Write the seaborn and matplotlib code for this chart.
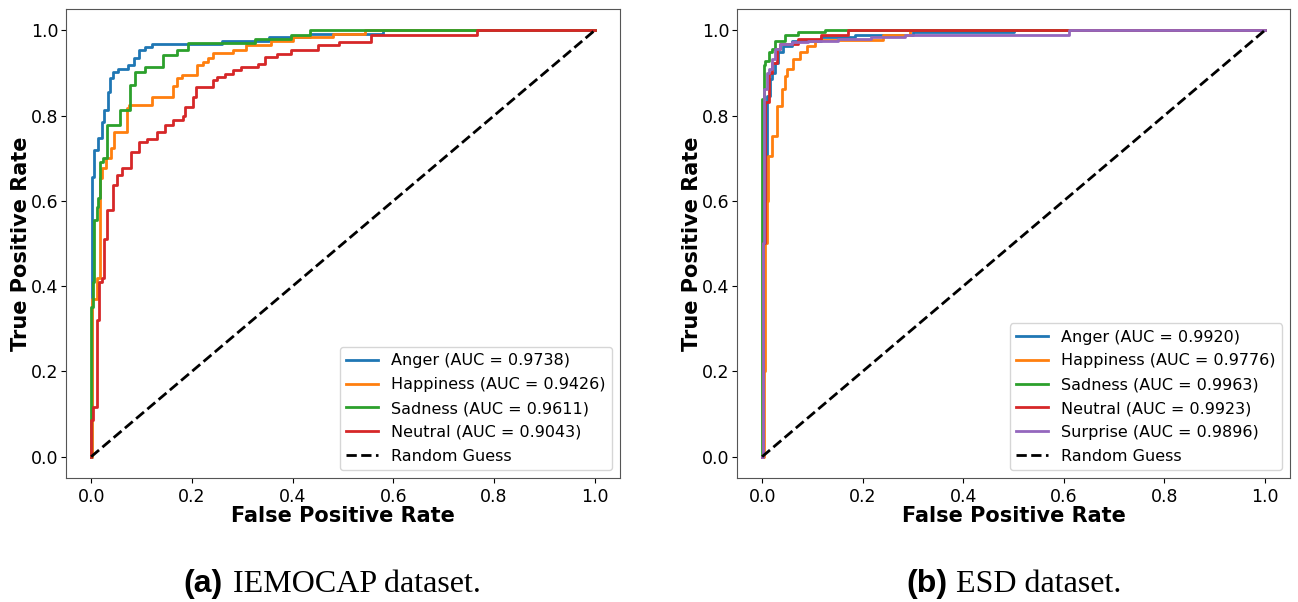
import matplotlib
matplotlib.use('Agg')
import matplotlib.pyplot as plt
import seaborn as sns

# ROC curve corner points (fpr, tpr), steps-post
# IEMOCAP
iemo_labels = ['Anger', 'Happiness', 'Sadness', 'Neutral']
iemo_auc = ['0.9738', '0.9426', '0.9611', '0.9043']
iemo_fpr = [
    [0, 0.0013, 0.006, 0.013, 0.021, 0.026, 0.033, 0.038, 0.044, 0.054, 0.074,
     0.086, 0.094, 0.107, 0.12, 0.259, 0.354, 0.434, 0.579, 1.0],
    [0, 0.002, 0.012, 0.018, 0.022, 0.029, 0.039, 0.045, 0.072, 0.076, 0.12,
     0.163, 0.17, 0.18, 0.21, 0.222, 0.232, 0.242, 0.282, 0.308, 0.358, 0.401,
     0.48, 0.543, 1.0],
    [0, 0, 0.003, 0.006, 0.011, 0.0145, 0.018, 0.024, 0.032, 0.057, 0.077,
     0.087, 0.107, 0.143, 0.17, 0.193, 0.325, 0.397, 0.434, 1.0],
    [0, 0, 0.003, 0.011, 0.015, 0.021, 0.026, 0.031, 0.044, 0.052, 0.061, 0.08,
     0.094, 0.11, 0.13, 0.146, 0.163, 0.183, 0.186, 0.203, 0.209, 0.242, 0.249,
     0.265, 0.282, 0.298, 0.331, 0.345, 0.368, 0.397, 0.45, 0.493, 0.556,
     0.767, 1.0],
]
iemo_tpr = [
    [0, 0.656, 0.72, 0.747, 0.785, 0.813, 0.855, 0.887, 0.902, 0.91, 0.918,
     0.934, 0.953, 0.961, 0.969, 0.975, 0.985, 0.992, 1.0, 1.0],
    [0, 0.37, 0.42, 0.653, 0.677, 0.70, 0.724, 0.762, 0.817, 0.825, 0.844,
     0.87, 0.888, 0.895, 0.918, 0.926, 0.934, 0.946, 0.953, 0.965, 0.975, 0.985,
     0.992, 1.0, 1.0],
    [0, 0.35, 0.41, 0.555, 0.585, 0.607, 0.69, 0.70, 0.777, 0.813, 0.871,
     0.902, 0.914, 0.941, 0.953, 0.971, 0.98, 0.988, 1.0, 1.0],
    [0, 0.087, 0.117, 0.32, 0.41, 0.42, 0.51, 0.578, 0.637, 0.66, 0.677, 0.714,
     0.738, 0.745, 0.762, 0.777, 0.789, 0.80, 0.82, 0.844, 0.867, 0.883, 0.89,
     0.898, 0.906, 0.914, 0.922, 0.937, 0.945, 0.953, 0.965, 0.973, 0.988,
     1.0, 1.0],
]

# ESD
esd_labels = ['Anger', 'Happiness', 'Sadness', 'Neutral', 'Surprise']
esd_auc = ['0.9920', '0.9776', '0.9963', '0.9923', '0.9896']
esd_fpr = [
    [0, 0.002, 0.0093, 0.016, 0.019, 0.026, 0.032, 0.042, 0.059, 0.118, 0.184,
     0.30, 0.50, 1.0],
    [0, 0.004, 0.006, 0.009, 0.0126, 0.019, 0.029, 0.039, 0.046, 0.049, 0.062,
     0.075, 0.09, 0.105, 0.24, 0.294, 1.0],
    [0, 0, 0.003, 0.006, 0.013, 0.02, 0.026, 0.046, 0.072, 0.125, 1.0],
    [0, 0.002, 0.006, 0.013, 0.019, 0.029, 0.036, 0.072, 0.118, 0.171, 1.0],
    [0, 0.001, 0.003, 0.009, 0.013, 0.019, 0.026, 0.036, 0.059, 0.092, 0.151,
     0.217, 0.284, 0.61, 1.0],
]
esd_tpr = [
    [0, 0.6, 0.847, 0.886, 0.90, 0.924, 0.948, 0.964, 0.976, 0.984, 0.989,
     0.995, 1.0, 1.0],
    [0, 0.2, 0.5, 0.6, 0.706, 0.753, 0.823, 0.862, 0.894, 0.909, 0.933,
     0.948, 0.964, 0.977, 0.988, 1.0, 1.0],
    [0, 0.84, 0.918, 0.929, 0.948, 0.956, 0.976, 0.989, 0.995, 1.0, 1.0],
    [0, 0.5, 0.832, 0.90, 0.924, 0.956, 0.968, 0.98, 0.99, 1.0, 1.0],
    [0, 0.5, 0.862, 0.90, 0.91, 0.933, 0.956, 0.968, 0.972, 0.976, 0.98,
     0.984, 0.99, 1.0, 1.0],
]

colors = sns.color_palette('tab10')

fig = plt.figure(figsize=(12.98, 6.02), dpi=100)
ax1 = fig.add_axes([66 / 1298, 1 - 478 / 602, 554 / 1298, 469 / 602])
ax2 = fig.add_axes([737 / 1298, 1 - 478 / 602, 553 / 1298, 469 / 602])


def draw_roc(ax, labels, aucs, fprs, tprs):
    for i, name in enumerate(labels):
        sns.lineplot(x=fprs[i], y=tprs[i], ax=ax, color=colors[i],
                     estimator=None, sort=False, drawstyle='steps-post',
                     linewidth=2, label=f'{name} (AUC = {aucs[i]})')
    sns.lineplot(x=[0, 1], y=[0, 1], ax=ax, color='k', linestyle='--',
                 linewidth=2, estimator=None, sort=False, label='Random Guess')
    ax.set_xlim(-0.05, 1.05)
    ax.set_ylim(-0.05, 1.05)
    ax.set_xticks([0, 0.2, 0.4, 0.6, 0.8, 1.0])
    ax.set_yticks([0, 0.2, 0.4, 0.6, 0.8, 1.0])
    ax.tick_params(labelsize=12.5)
    ax.tick_params(axis='y', pad=2)
    ax.set_xlabel('False Positive Rate', fontsize=15, fontweight='bold', labelpad=0)
    ax.set_ylabel('True Positive Rate', fontsize=15, fontweight='bold', labelpad=0)
    for s in ax.spines.values():
        s.set_color('#555555')
    ax.legend(loc='lower right', fontsize=11.5, labelspacing=0.55)


draw_roc(ax1, iemo_labels, iemo_auc, iemo_fpr, iemo_tpr)
draw_roc(ax2, esd_labels, esd_auc, esd_fpr, esd_tpr)

# captions
cap_y = 1 - 592 / 602
fig.text(223 / 1298, cap_y, '(a)', ha='right', va='baseline', fontsize=23,
         fontweight='bold', family='Liberation Sans')
fig.text(233 / 1298, cap_y, 'IEMOCAP dataset.', ha='left', va='baseline',
         fontsize=23, family='Liberation Serif')
fig.text(947 / 1298, cap_y, '(b)', ha='right', va='baseline', fontsize=23,
         fontweight='bold', family='Liberation Sans')
fig.text(956 / 1298, cap_y, 'ESD dataset.', ha='left', va='baseline',
         fontsize=23, family='Liberation Serif')

fig.savefig('out.png', dpi=100)
